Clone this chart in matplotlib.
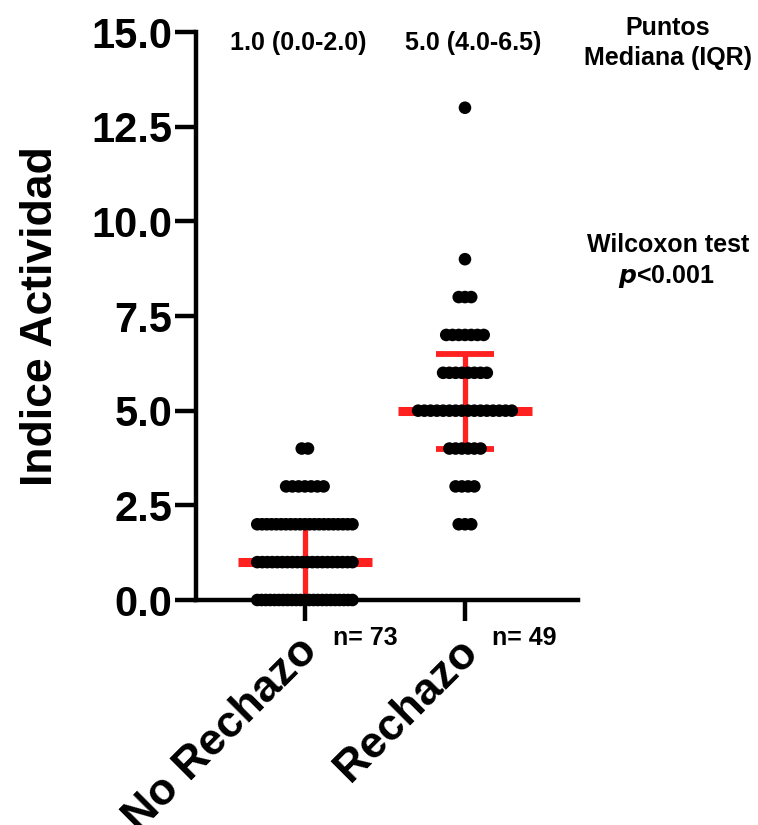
import numpy as np
import matplotlib
matplotlib.use("Agg")
import matplotlib.pyplot as plt
import matplotlib.transforms as mtransforms

plt.rcParams['font.family'] = ['Liberation Sans', 'DejaVu Sans']
plt.rcParams['font.weight'] = 'bold'

# data: score value and number of patients at that value
groups = ['No Rechazo', 'Rechazo']
no_rech_vals = [0, 1, 2, 3, 4]
no_rech_counts = [23, 20, 21, 7, 2]
rech_vals = [2, 3, 4, 5, 6, 7, 8, 9, 13]
rech_counts = [3, 4, 6, 16, 8, 7, 3, 1, 1]
medians = [1.0, 5.0]
q1 = [0.0, 4.0]
q3 = [2.0, 6.5]
n_labels = ['n= 73', 'n= 49']
y_ticks = [0.0, 2.5, 5.0, 7.5, 10.0, 12.5, 15.0]

RED = '#ff2020'


def row_layout(center, vals, counts, step=0.039, max_w=0.595):
    xs, ys = [], []
    for v, c in zip(vals, counts):
        sp = step if c < 2 else min(step, max_w / (c - 1))
        off = (np.arange(c) - (c - 1) / 2) * sp
        xs.extend(center + off)
        ys.extend([v] * c)
    return np.array(xs), np.array(ys)


fig = plt.figure(figsize=(7.58, 8.25), dpi=100)
ax = fig.add_axes([196 / 758, 1 - 600 / 825, (578 - 196) / 758, (600 - 32) / 825])

# median + IQR bars (behind the dots)
for i in range(2):
    ax.plot([i - 0.42, i + 0.42], [medians[i]] * 2, color=RED, lw=6.5,
            solid_capstyle='butt', zorder=2)
    ax.plot([i, i], [q1[i], q3[i]], color=RED, lw=3.8, zorder=2)
    for q in (q1[i], q3[i]):
        ax.plot([i - 0.18, i + 0.18], [q, q], color=RED, lw=4.2,
                solid_capstyle='butt', zorder=2)

for i, (vals, counts) in enumerate([(no_rech_vals, no_rech_counts),
                                     (rech_vals, rech_counts)]):
    xs, ys = row_layout(i, vals, counts)
    ax.scatter(xs, ys, s=82, color='black', edgecolors='none', zorder=3,
               clip_on=False)

ax.set_xlim(-0.68, 1.706)
ax.set_ylim(0, 15)
ax.set_yticks(y_ticks)
ax.set_yticklabels([f'{t:.1f}' for t in y_ticks])
ax.set_xticks([0, 1])
ax.set_xticklabels(groups, rotation=45, ha='right', rotation_mode='anchor')

for s in ('top', 'right'):
    ax.spines[s].set_visible(False)
for s in ('left', 'bottom'):
    ax.spines[s].set_linewidth(3.2)

ax.tick_params(axis='y', length=15, width=3.2, pad=2, labelsize=30)
ax.tick_params(axis='x', length=15, width=3.2, pad=7, labelsize=32)
shift = mtransforms.ScaledTranslation(-8 / 100, 0, fig.dpi_scale_trans)
for lab in ax.get_xticklabels():
    lab.set_fontweight('bold')
    lab.set_transform(lab.get_transform() + shift)
for lab in ax.get_yticklabels():
    lab.set_fontweight('bold')

ax.set_ylabel('Indice Actividad', fontsize=32, fontweight='bold', labelpad=22)

# median (IQR) text above each group
for i, x in enumerate([298, 473]):
    fig.text(x / 758, 1 - 43 / 825, f'{medians[i]:.1f} ({q1[i]:.1f}-{q3[i]:.1f})',
             ha='center', va='center', fontsize=18, fontweight='bold')

for x, lab in zip([365, 524], n_labels):
    fig.text(x / 758, 1 - 638 / 825, lab, ha='center', va='center',
             fontsize=18, fontweight='bold')

fig.text(668 / 758, 1 - 43 / 825, 'Puntos\nMediana (IQR)', ha='center',
         va='center', fontsize=18, fontweight='bold', linespacing=1.35)
fig.text(668 / 758, 1 - 245 / 825, 'Wilcoxon test', ha='center', va='center',
         fontsize=18, fontweight='bold')
fig.text(666 / 758, 1 - 277 / 825, r'$\boldsymbol{p}$<0.001', ha='center',
         va='center', fontsize=18, fontweight='bold')

fig.savefig('out.png', dpi=100)
